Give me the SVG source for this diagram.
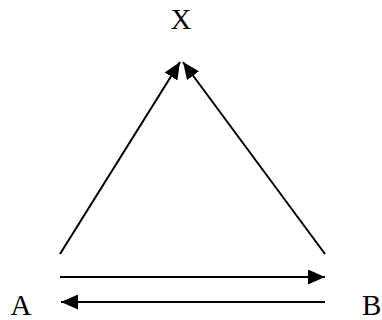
<svg xmlns="http://www.w3.org/2000/svg" width="382" height="320" viewBox="0 0 382 320">
  <style>
    .lbl { font-family: "Liberation Serif", "Times New Roman", serif; font-size: 29px; fill: #000; }
    .edge { stroke: #000; stroke-width: 2; fill: none; marker-end: url(#arrow); }
  </style>
  <defs>
    <marker id="arrow" markerUnits="userSpaceOnUse" markerWidth="17" markerHeight="15" refX="17" refY="7.5" orient="auto">
      <path d="M0,0 L17,7.5 L0,15 z" fill="#000"/>
    </marker>
  </defs>
  <rect width="382" height="320" fill="#fff"/>
  <g id="connectors">
    <line id="A-X" class="edge" x1="60" y1="254" x2="180" y2="62"/>
    <line id="B-X" class="edge" x1="325" y1="254" x2="183" y2="62"/>
    <line id="A-B" class="edge" x1="60" y1="277" x2="325" y2="277"/>
    <line id="B-A" class="edge" x1="325" y1="302" x2="61" y2="302"/>
  </g>
  <g id="node-X"><text class="lbl" x="181" y="29" text-anchor="middle">X</text></g>
  <g id="node-A"><text class="lbl" x="21" y="315" text-anchor="middle">A</text></g>
  <g id="node-B"><text class="lbl" x="362" y="315">B</text></g>
</svg>
